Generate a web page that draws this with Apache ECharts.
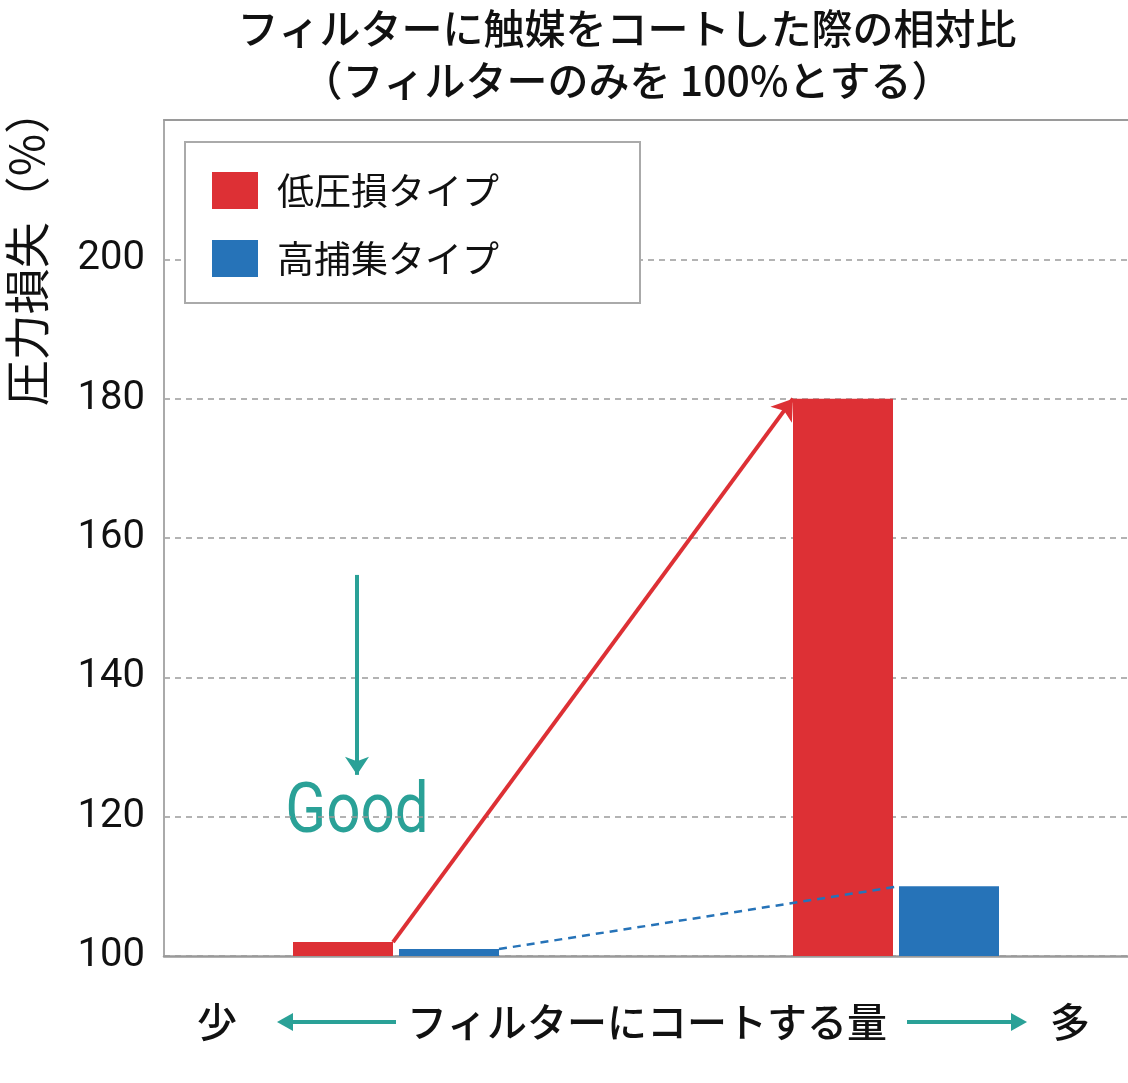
<!DOCTYPE html>
<html><head><meta charset="utf-8">
<script src="https://cdn.jsdelivr.net/npm/echarts@6/dist/echarts.min.js"></script>
<style>html,body{margin:0;padding:0;background:#fff}#c{width:1128px;height:1083px}</style>
</head><body><div id="c"></div>
<script>
// ---- data ----
const titleLines = ['フィルターに触媒をコートした際の相対比', '（フィルターのみを 100%とする）'];
const seriesNames = ['低圧損タイプ', '高捕集タイプ'];
const xPos = [1, 2];                 // 少ないコート量 / 多いコート量
const lowLossValues = [102, 180];    // 低圧損タイプ
const highCollectValues = [101, 110];// 高捕集タイプ
const yTicks = [100, 120, 140, 160, 180, 200];
const yAxisTitle = '圧力損失（%）';
const xAxisTitle = 'フィルターにコートする量';
const xLeftLabel = '少';
const xRightLabel = '多';
const goodLabel = 'Good';
const goodArrow = [[0.922, 154.7], [0.922, 126]];
const goodPos = [0.922, 120.3];

const RED = '#dd3035', BLUE = '#2673b8', TEAL = '#2aa197', GREY = '#9a9a9a';
const JP = "'Noto Sans CJK JP', 'Noto Sans', sans-serif";
const NUM = "'Roboto', sans-serif";

// bar geometry in axis units (500px per unit)
const unitPx = 500, barPx = 100, gapPx = 6;
const halfGap = gapPx / 2 / unitPx, barU = barPx / unitPx;

const chart = echarts.init(document.getElementById('c'), null, {renderer: 'canvas'});
const option = {
  animation: false,
  backgroundColor: '#fff',
  title: {
    text: titleLines.join('\n'),
    left: 627, top: 2, textAlign: 'center', padding: 0,
    textStyle: {fontFamily: JP, fontSize: 41, fontWeight: 500, lineHeight: 52, color: '#111'}
  },
  grid: {left: 164, right: 0, top: 120, bottom: 127, containLabel: false},
  legend: {
    orient: 'vertical', left: 185, top: 142,
    padding: [30, 141, 26, 27],
    itemWidth: 46, itemHeight: 37, itemGap: 31,
    icon: 'rect',
    borderColor: '#aaa', borderWidth: 2, backgroundColor: '#fff',
    textStyle: {fontFamily: JP, fontSize: 37, lineHeight: 37, color: '#111', padding: [0, 0, 0, 14]},
    data: seriesNames
  },
  xAxis: [
    {type: 'value', min: 0.536, max: 2.464, axisLine: {show: true, lineStyle: {color: GREY, width: 2.5}},
     axisTick: {show: false}, axisLabel: {show: false}, splitLine: {show: false}},
    {type: 'value', position: 'top', min: 0.536, max: 2.464, axisLine: {show: true, lineStyle: {color: GREY, width: 2}},
     axisTick: {show: false}, axisLabel: {show: false}, splitLine: {show: false}}
  ],
  yAxis: {
    type: 'value', min: 100, max: 220, interval: 20,
    axisLine: {show: true, lineStyle: {color: '#aaa', width: 2}},
    axisTick: {show: false},
    axisLabel: {
      margin: 19, fontFamily: NUM, fontSize: 40, color: '#111',
      formatter: v => (yTicks.indexOf(v) >= 0 ? String(v) : '')
    },
    splitLine: {show: true, lineStyle: {color: GREY, width: 1.5, type: [6, 5]}}
  },
  series: [
    {
      name: seriesNames[0], type: 'bar', barWidth: barPx, barGap: (gapPx / barPx * 100) + '%',
      itemStyle: {color: RED},
      data: xPos.map((x, i) => [x, lowLossValues[i]])
    },
    {
      name: seriesNames[1], type: 'bar', barWidth: barPx, barGap: (gapPx / barPx * 100) + '%',
      itemStyle: {color: BLUE},
      data: xPos.map((x, i) => [x, highCollectValues[i]])
    },
    {
      name: 'annotations', type: 'line', data: [], showSymbol: false, silent: true,
      markLine: {
        silent: true, animation: false, label: {show: false}, symbol: ['none', 'arrow'], symbolSize: 20,
        data: [
          [{coord: [xPos[0] - halfGap, lowLossValues[0]], lineStyle: {color: RED, width: 4, type: 'solid'}},
           {coord: [xPos[1] - halfGap - barU, lowLossValues[1]]}],
          [{coord: [xPos[0] + halfGap + barU, highCollectValues[0]], symbol: 'none', lineStyle: {color: BLUE, width: 2.5, type: [8, 6]}},
           {coord: [xPos[1] + halfGap, highCollectValues[1]], symbol: 'none'}],
          [{coord: goodArrow[0], symbolSize: 18, lineStyle: {color: TEAL, width: 4, type: 'solid'}},
           {coord: goodArrow[1], symbolSize: 18}]
        ]
      }
    }
  ],
  graphic: [
    {type: 'text', x: 27, y: 247, rotation: Math.PI / 2,
     style: {text: yAxisTitle, fontFamily: JP, fontSize: 46, fill: '#111', align: 'center', verticalAlign: 'middle'}},
    {type: 'text', x: 217, y: 1022, style: {text: xLeftLabel, fontFamily: JP, fontSize: 40, fontWeight: 500, fill: '#111', align: 'center', verticalAlign: 'middle'}},
    {type: 'text', x: 647, y: 1022, style: {text: xAxisTitle, fontFamily: JP, fontSize: 40, fontWeight: 500, fill: '#111', align: 'center', verticalAlign: 'middle'}},
    {type: 'text', x: 1070, y: 1022, style: {text: xRightLabel, fontFamily: JP, fontSize: 40, fontWeight: 500, fill: '#111', align: 'center', verticalAlign: 'middle'}},
    {type: 'line', shape: {x1: 290, y1: 1022, x2: 396, y2: 1022}, style: {stroke: TEAL, lineWidth: 4}},
    {type: 'polygon', shape: {points: [[277, 1022], [293, 1013], [293, 1031]]}, style: {fill: TEAL}},
    {type: 'line', shape: {x1: 907, y1: 1022, x2: 1014, y2: 1022}, style: {stroke: TEAL, lineWidth: 4}},
    {type: 'polygon', shape: {points: [[1027, 1022], [1011, 1013], [1011, 1031]]}, style: {fill: TEAL}}
  ]
};
chart.setOption(option);
const gp = chart.convertToPixel({gridIndex: 0}, goodPos);
chart.setOption({graphic: option.graphic.concat([
  {type: 'text', x: gp[0], y: gp[1], scaleX: 0.86,
   style: {text: goodLabel, fontFamily: NUM, fontSize: 70, fontWeight: 400, fill: TEAL, align: 'center', verticalAlign: 'middle'}}
])});
</script></body></html>
